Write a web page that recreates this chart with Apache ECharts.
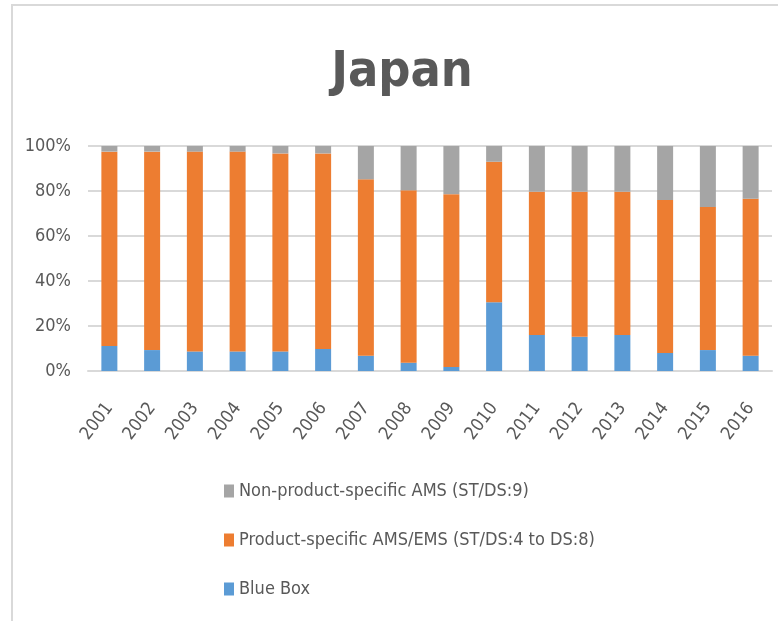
<!DOCTYPE html>
<html>
<head>
<meta charset="utf-8">
<script src="https://cdn.jsdelivr.net/npm/echarts@6/dist/echarts.min.js"></script>
<style>
html,body{margin:0;padding:0;background:#fff;}
#chart{width:778px;height:621px;}
</style>
</head>
<body>
<div id="chart"></div>
<script>
var years = ['2001','2002','2003','2004','2005','2006','2007','2008','2009','2010','2011','2012','2013','2014','2015','2016'];
var blueBox = [11.1, 9.3, 8.7, 8.7, 8.7, 9.8, 6.8, 3.7, 1.8, 30.6, 16.0, 15.2, 16.0, 8.0, 9.3, 6.8];
var productSpecific = [86.4, 88.2, 88.8, 88.8, 88.0, 86.9, 78.4, 76.6, 76.8, 62.4, 63.7, 64.5, 63.7, 68.0, 63.6, 69.8];
var nonProductSpecific = [2.5, 2.5, 2.5, 2.5, 3.3, 3.3, 14.8, 19.7, 21.4, 7.0, 20.3, 20.3, 20.3, 24.0, 27.1, 23.4];
var seriesNames = ['Blue Box', 'Product-specific AMS/EMS (ST/DS:4 to DS:8)', 'Non-product-specific AMS (ST/DS:9)'];
var yTicks = [0, 20, 40, 60, 80, 100];

var FONT = "'Liberation Sans Narrow', 'DejaVu Sans Condensed', 'Liberation Sans', sans-serif";
var TXT = '#595959';

var chart = echarts.init(document.getElementById('chart'), null, {renderer: 'canvas'});
chart.setOption({
  animation: false,
  backgroundColor: '#ffffff',
  textStyle: {fontFamily: FONT},
  graphic: [{
    type: 'rect',
    shape: {x: 12, y: 5, width: 800, height: 700},
    style: {fill: 'none', stroke: '#d9d9d9', lineWidth: 2},
    silent: true,
    z: -10
  }],
  title: {
    text: 'Japan',
    left: 402,
    top: 48,
    textAlign: 'center',
    padding: 0,
    textStyle: {fontFamily: FONT, fontSize: 50, fontWeight: 'bold', color: TXT}
  },
  legend: {
    orient: 'vertical',
    left: 219,
    top: 477,
    itemWidth: 10,
    itemHeight: 13,
    itemGap: 31,
    icon: 'rect',
    data: [seriesNames[2], seriesNames[1], seriesNames[0]],
    textStyle: {fontFamily: FONT, fontSize: 18, color: TXT}
  },
  grid: {left: 88, right: 6, top: 146, bottom: 250, containLabel: false},
  xAxis: {
    type: 'category',
    data: years,
    axisLine: {lineStyle: {color: '#d9d9d9', width: 2}},
    axisTick: {show: false},
    axisLabel: {rotate: 53, margin: 34, fontSize: 18, color: TXT, fontFamily: FONT, interval: 0}
  },
  yAxis: {
    type: 'value',
    min: 0,
    max: 100,
    interval: 20,
    axisLine: {show: false},
    axisTick: {show: false},
    splitLine: {lineStyle: {color: '#d9d9d9', width: 2}},
    axisLabel: {formatter: '{value}%', fontSize: 18, color: TXT, fontFamily: FONT, margin: 17}
  },
  series: [
    {name: seriesNames[0], type: 'bar', stack: 'total', data: blueBox, barWidth: 16, itemStyle: {color: '#5B9BD5'}},
    {name: seriesNames[1], type: 'bar', stack: 'total', data: productSpecific, barWidth: 16, itemStyle: {color: '#ED7D31'}},
    {name: seriesNames[2], type: 'bar', stack: 'total', data: nonProductSpecific, barWidth: 16, itemStyle: {color: '#A5A5A5'}}
  ]
});
</script>
</body>
</html>
